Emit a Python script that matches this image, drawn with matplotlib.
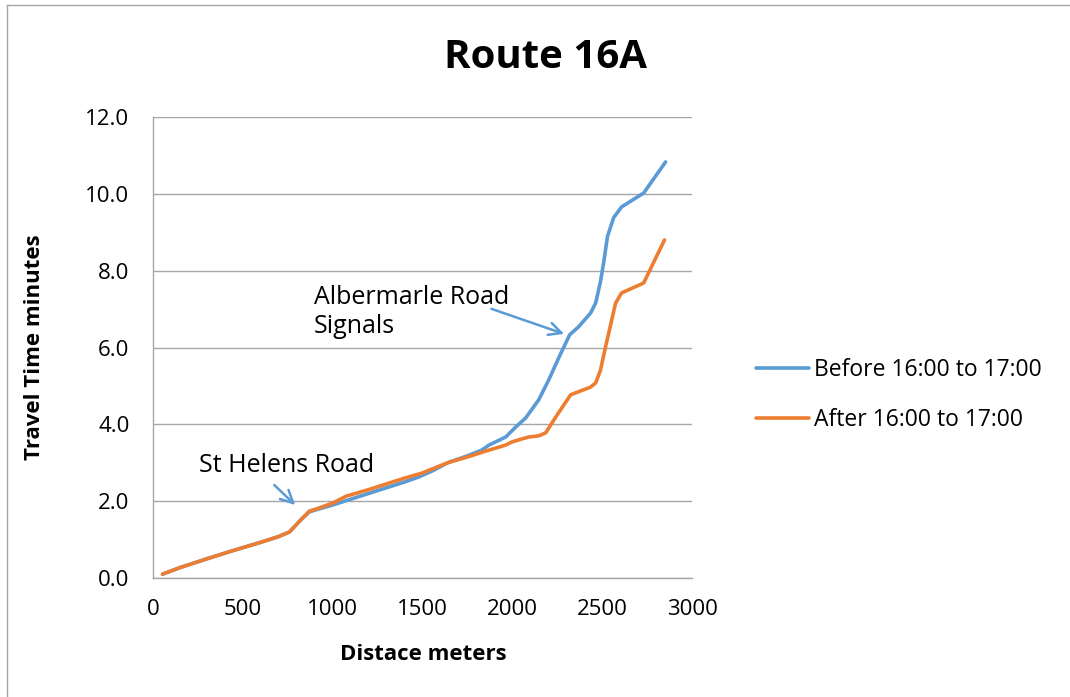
import numpy as np
import matplotlib
matplotlib.use('Agg')
import matplotlib.pyplot as plt
from matplotlib.lines import Line2D
from matplotlib.ticker import FormatStrFormatter

plt.rcParams['font.family'] = ['Open Sans', 'DejaVu Sans']

# distance (m) and travel time (min)
dist_before = [53, 150, 300, 450, 600, 700, 760, 820, 870, 910, 1000, 1100, 1200, 1300,
               1400, 1480, 1560, 1640, 1750, 1830, 1870, 1963, 2019, 2075, 2147, 2203,
               2260, 2319, 2369, 2436, 2464, 2490, 2508, 2530, 2564, 2608, 2731, 2853]
time_before = [0.1, 0.27, 0.5, 0.72, 0.93, 1.08, 1.2, 1.5, 1.72, 1.78, 1.9, 2.05, 2.2, 2.35,
               2.5, 2.63, 2.8, 3.0, 3.18, 3.33, 3.46, 3.67, 3.93, 4.17, 4.64, 5.16,
               5.75, 6.33, 6.54, 6.9, 7.16, 7.7, 8.2, 8.9, 9.38, 9.66, 10.02, 10.83]

dist_after = [53, 150, 300, 450, 600, 700, 760, 820, 870, 910, 1000, 1075, 1200, 1300,
              1400, 1497, 1560, 1640, 1750, 1850, 1963, 1997, 2053, 2092, 2147, 2186,
              2250, 2325, 2436, 2464, 2490, 2519, 2575, 2608, 2731, 2847]
time_after = [0.1, 0.27, 0.5, 0.72, 0.93, 1.08, 1.2, 1.5, 1.74, 1.8, 1.95, 2.13, 2.3, 2.45,
              2.6, 2.73, 2.85, 3.0, 3.15, 3.3, 3.46, 3.54, 3.62, 3.67, 3.7, 3.78,
              4.25, 4.77, 4.97, 5.08, 5.4, 6.02, 7.16, 7.42, 7.68, 8.8]

labels = ['Before 16:00 to 17:00', 'After 16:00 to 17:00']
x_ticks = [0, 500, 1000, 1500, 2000, 2500, 3000]
y_ticks = [0, 2, 4, 6, 8, 10, 12]

blue = '#5B9BD5'
orange = '#ED7D31'
grey = '#A6A6A6'

fig = plt.figure(figsize=(10.7, 6.97), dpi=100)
ax = fig.add_axes([153/1070, 1-578/697, 539/1070, 461/697])

ax.plot(dist_before, time_before, color=blue, lw=2.6, label=labels[0], solid_capstyle='round')
ax.plot(dist_after, time_after, color=orange, lw=2.6, label=labels[1], solid_capstyle='round')

ax.set_xlim(0, 3000)
ax.set_ylim(0, 12)
ax.set_xticks(x_ticks)
ax.set_yticks(y_ticks)
ax.yaxis.set_major_formatter(FormatStrFormatter('%.1f'))
ax.tick_params(length=0, labelsize=16)
ax.tick_params(axis='y', pad=17)
ax.tick_params(axis='x', pad=15)
ax.grid(axis='y', color=grey, lw=1)
ax.set_axisbelow(True)
for s in ['top', 'right']:
    ax.spines[s].set_visible(False)
for s in ['left', 'bottom']:
    ax.spines[s].set_color(grey)
    ax.spines[s].set_linewidth(1)

ax.set_xlabel('Distace meters', fontsize=16, fontweight='bold')
ax.set_ylabel('Travel Time minutes', fontsize=16, fontweight='bold')
ax.xaxis.set_label_coords(0.501, -0.143)
ax.yaxis.set_label_coords(-0.2, 0.5)

fig.text(545/1070, 1-57/697, 'Route 16A', fontsize=29, fontweight='bold',
         ha='center', va='center')

# annotations
arrow = dict(arrowstyle='->,head_length=0.9,head_width=0.45', color=blue, lw=1.8)
ax.text(258, 2.94, 'St Helens Road', fontsize=18, va='center', ha='left')
ax.annotate('', xy=(803, 1.85), xytext=(664, 2.47), arrowprops=arrow)
ax.text(897, 6.92, 'Albermarle Road\nSignals', fontsize=18, va='center', ha='left',
        linespacing=1.2)
ax.annotate('', xy=(2303, 6.33), xytext=(1869, 7.03), arrowprops=arrow)

ax.legend(loc='center left', bbox_to_anchor=(756/1070, 1-395/697),
          bbox_transform=fig.transFigure, frameon=False, fontsize=16.5,
          handlelength=2.3, handletextpad=0.25, labelspacing=1.15,
          borderpad=0, borderaxespad=0)

# outer chart border
fig.add_artist(Line2D([7/1070, 7/1070], [0, 1-5/697], color=grey, lw=1))
fig.add_artist(Line2D([7/1070, 1], [1-5/697, 1-5/697], color=grey, lw=1))

fig.savefig('out.png', dpi=100)
